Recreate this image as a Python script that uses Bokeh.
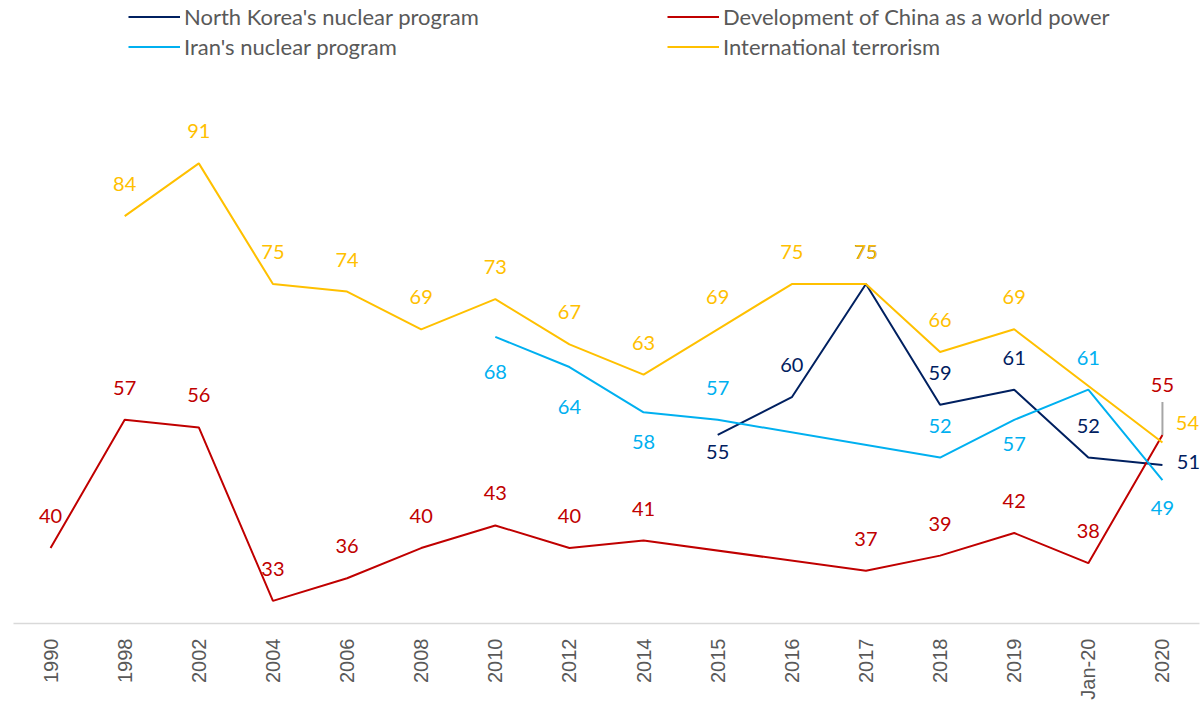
from bokeh.plotting import figure
from bokeh.models import FactorRange, Range1d, Legend, LegendItem, ColumnDataSource
from bokeh.core.properties import value
from bokeh.embed import file_html
from bokeh.resources import INLINE

categories = ["1990", "1998", "2002", "2004", "2006", "2008", "2010", "2012",
              "2014", "2015", "2016", "2017", "2018", "2019", "Jan-20", "2020"]
north_korea = [None, None, None, None, None, None, None, None, None,
               55, 60, 75, 59, 61, 52, 51]
china = [40, 57, 56, 33, 36, 40, 43, 40, 41, None, None, 37, 39, 42, 38, 55]
iran = [None, None, None, None, None, None, 68, 64, 58, 57, None, None, 52, 57, 61, 49]
terrorism = [None, 84, 91, 75, 74, 69, 73, 67, 63, 69, 75, 75, 66, 69, None, 54]

series = [
    ("North Korea's nuclear program", north_korea, "#002060"),
    ("Development of China as a world power", china, "#C00000"),
    ("Iran's nuclear program", iran, "#00B0F0"),
    ("International terrorism", terrorism, "#FFC000"),
]

# label placement (pixels: right, up); default is centred 32px above the point
label_shift = {
    "Development of China as a world power": {"2020": (0, 50)},
    "Iran's nuclear program": {"2010": (0, -35), "2012": (0, -40), "2014": (0, -30),
                               "2019": (0, -24), "2020": (0, -28)},
    "North Korea's nuclear program": {"2015": (0, -17), "2020": (26, 3)},
    "International terrorism": {"2020": (25, 19)},
}

FRAME_H = 623
Y0, Y1 = 30, 30 + 623 / 7.543
px_per_unit = FRAME_H / (Y1 - Y0)

p = figure(x_range=FactorRange(*categories, range_padding=0),
           y_range=Range1d(Y0, Y1),
           frame_width=1186, frame_height=FRAME_H,
           min_border_left=13, min_border_right=2, min_border_top=0, min_border_bottom=79,
           output_backend="svg", toolbar_location=None, y_axis_location=None)
p.outline_line_color = None
p.xgrid.visible = False
p.ygrid.visible = False
p.background_fill_color = "white"
p.border_fill_color = "white"

ax = p.xaxis[0]
ax.axis_line_color = "#D9D9D9"
ax.axis_line_width = 1.5
ax.major_tick_line_color = None
ax.minor_tick_line_color = None
ax.major_label_orientation = 1.5707963
ax.major_label_standoff = 9
ax.major_label_text_font = "Liberation Sans"
ax.major_label_text_font_size = "20px"
ax.major_label_text_color = "#595959"

renderers = {}
for name, vals, color in series:
    xs = [c for c, v in zip(categories, vals) if v is not None]
    ys = [v for v in vals if v is not None]
    renderers[name] = p.line(xs, ys, line_color=color, line_width=2)

label_order = ["Development of China as a world power", "Iran's nuclear program",
               "North Korea's nuclear program", "International terrorism"]
for name in label_order:
    _, data, color = [s for s in series if s[0] == name][0]
    xs = [c for c, v in zip(categories, data) if v is not None]
    ys = [v for v in data if v is not None]
    shifts = [label_shift.get(name, {}).get(c, (0, 32)) for c in xs]
    src = ColumnDataSource(dict(x=xs, y=ys, t=[str(v) for v in ys],
                                dx=[s[0] for s in shifts], dy=[-s[1] for s in shifts]))
    p.text(x="x", y="y", text="t", source=src, x_offset="dx", y_offset="dy",
           text_align="center", text_baseline="middle",
           text_font=value("Lato"), text_font_size="20px", text_color=color)

# leader line for China 2020 label
ci = categories.index("2020")
p.segment(x0=[categories[ci]], y0=[china[ci]], x1=[categories[ci]],
          y1=[china[ci] + 33 / px_per_unit], line_color="#A6A6A6", line_width=2)

leg_kw = dict(glyph_width=52, glyph_height=27, label_height=27, spacing=3,
              padding=0, margin=0, border_line_color=None, background_fill_alpha=0,
              label_text_font="Lato", label_text_font_size="22px",
              label_text_color="#595959", label_standoff=4, orientation="vertical")
leg1 = Legend(items=[LegendItem(label=series[0][0], renderers=[renderers[series[0][0]]]),
                     LegendItem(label=series[2][0], renderers=[renderers[series[2][0]]])],
              location=(115, 563), **leg_kw)
leg2 = Legend(items=[LegendItem(label=series[1][0], renderers=[renderers[series[1][0]]]),
                     LegendItem(label=series[3][0], renderers=[renderers[series[3][0]]])],
              location=(654, 563), **leg_kw)
p.add_layout(leg1)
p.add_layout(leg2)

open("out.html", "w").write(file_html(p, INLINE))
